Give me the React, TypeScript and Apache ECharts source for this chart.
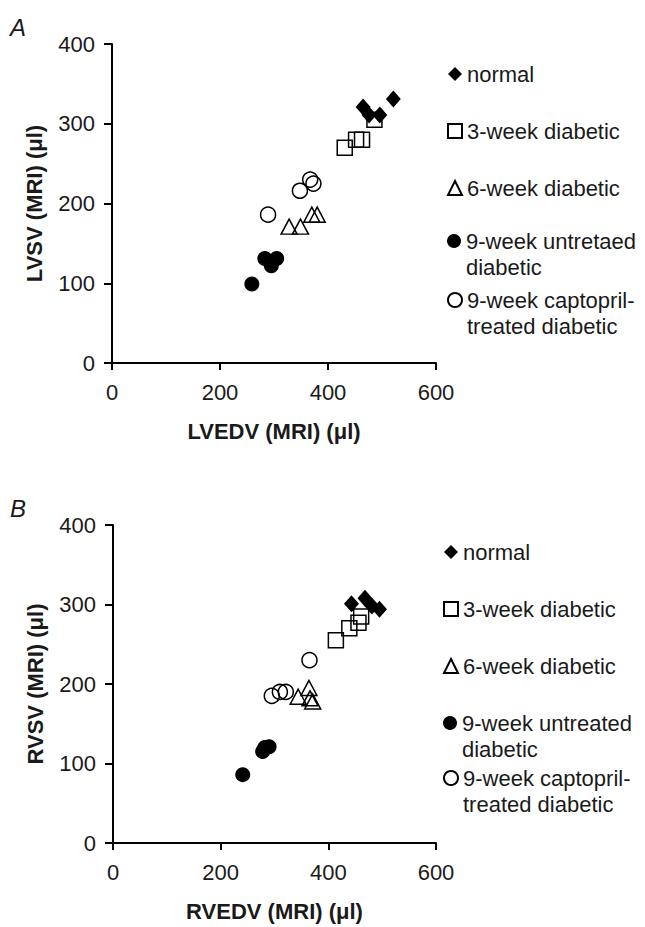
import React, { useEffect, useRef } from "react";
import * as echarts from "echarts";

// ---- Data (x = EDV, y = SV, both in µl) ----
const NAMES_A = [
  "normal",
  "3-week diabetic",
  "6-week diabetic",
  "9-week untretaed\ndiabetic",
  "9-week captopril-\ntreated diabetic",
];
const NAMES_B = [
  "normal",
  "3-week diabetic",
  "6-week diabetic",
  "9-week untreated\ndiabetic",
  "9-week captopril-\ntreated diabetic",
];

const A_NORMAL = [[465, 321], [476, 311], [496, 311], [521, 331]];
const A_WEEK3 = [[431, 270], [452, 280], [463, 280], [486, 305]];
const A_WEEK6 = [[328, 171], [349, 171], [370, 186], [380, 186]];
const A_UNTREATED = [[259, 99], [283, 131], [295, 122], [305, 131]];
const A_CAPTOPRIL = [[289, 186], [348, 216], [367, 230], [373, 225]];

const B_NORMAL = [[443, 301], [468, 308], [481, 298], [495, 294]];
const B_WEEK3 = [[414, 255], [439, 270], [456, 277], [461, 285]];
const B_WEEK6 = [[344, 184], [364, 195], [366, 182], [371, 178]];
const B_UNTREATED = [[241, 86], [278, 115], [282, 120], [290, 121]];
const B_CAPTOPRIL = [[295, 185], [310, 190], [321, 190], [365, 230]];

const X_TITLES = ["LVEDV (MRI) (\u03bcl)", "RVEDV (MRI) (\u03bcl)"];
const Y_TITLES = ["LVSV (MRI) (\u03bcl)", "RVSV (MRI) (\u03bcl)"];
const PANEL_LABELS = ["A", "B"];

const FONT = "'Liberation Sans', Arial, Helvetica, sans-serif";
const INK = "#1a1a1a";
const OPEN = "rgba(255,255,255,0)";

type Style = { symbol: string; size: number | number[]; filled: boolean };
const STYLES: Style[] = [
  { symbol: "diamond", size: [15, 17], filled: true },
  { symbol: "rect", size: 15, filled: false },
  { symbol: "triangle", size: [16, 15], filled: false },
  { symbol: "circle", size: 15, filled: true },
  { symbol: "circle", size: 15, filled: false },
];

function makeSeries(name: string, data: number[][], idx: number, st: Style, z: number) {
  return {
    type: "scatter",
    name,
    data,
    xAxisIndex: idx,
    yAxisIndex: idx,
    symbol: st.symbol,
    symbolSize: st.size,
    z,
    itemStyle: st.filled
      ? { color: "#000", borderColor: "#000", borderWidth: 0, opacity: 1 }
      : { color: OPEN, borderColor: "#000", borderWidth: 1.5, opacity: 1 },
    emphasis: { disabled: true },
  };
}

function makeAxes(idx: number) {
  const base = {
    type: "value",
    gridIndex: idx,
    splitLine: { show: false },
    axisLine: { show: true, onZero: false, lineStyle: { color: "#000", width: 2 } },
    axisTick: { show: true, inside: false, lineStyle: { color: "#000", width: 2 } },
    nameLocation: "middle",
    nameTextStyle: { color: INK, fontFamily: FONT, fontWeight: "bold", fontSize: 22 },
  };
  const x = {
    ...base,
    min: 0,
    max: 600,
    interval: 200,
    axisTick: { ...base.axisTick, length: 7 },
    axisLabel: { color: INK, fontFamily: FONT, fontSize: 22, margin: 18 },
    name: X_TITLES[idx],
    nameGap: 57,
  };
  const y = {
    ...base,
    min: 0,
    max: 400,
    interval: 100,
    axisTick: { ...base.axisTick, length: 8 },
    axisLabel: { color: INK, fontFamily: FONT, fontSize: 22, margin: 17 },
    name: Y_TITLES[idx],
    nameGap: 67,
  };
  return { x, y };
}

function makeLegends(names: string[], left: number, topSingle: number, topTwo: number[]) {
  const common = {
    orient: "vertical",
    left,
    padding: 0,
    itemWidth: 14,
    itemHeight: 14,
    selectedMode: false,
    inactiveColor: INK,
  };
  const ts = { color: INK, fontFamily: FONT, fontSize: 22, lineHeight: 26 };
  return [
    { ...common, top: topSingle, itemGap: 31, data: names.slice(0, 3), textStyle: ts },
    // two-line entries: an empty first line keeps the marker level with the first line of text
    { ...common, top: topTwo[0], data: [names[3]], textStyle: ts, formatter: (n: string) => "\n" + n },
    { ...common, top: topTwo[1], data: [names[4]], textStyle: ts, formatter: (n: string) => "\n" + n },
  ];
}

export default function App() {
  const ref = useRef<HTMLDivElement>(null);

  useEffect(() => {
    if (!ref.current) return;
    const chart = echarts.init(ref.current, undefined, { renderer: "svg" });
    const axA = makeAxes(0);
    const axB = makeAxes(1);
    const dataA = [A_NORMAL, A_WEEK3, A_WEEK6, A_UNTREATED, A_CAPTOPRIL];
    const dataB = [B_NORMAL, B_WEEK3, B_WEEK6, B_UNTREATED, B_CAPTOPRIL];
    const zOrder = [6, 3, 3, 4, 2];
    const series: any[] = [];
    NAMES_A.forEach((n, i) => series.push(makeSeries(n, dataA[i], 0, STYLES[i], zOrder[i])));
    NAMES_B.forEach((n, i) => series.push(makeSeries(n, dataB[i], 1, STYLES[i], zOrder[i])));

    chart.setOption({
      animation: false,
      backgroundColor: "#fff",
      textStyle: { fontFamily: FONT },
      grid: [
        { left: 112, top: 44, width: 324, height: 319 },
        { left: 113, top: 525, width: 323, height: 318 },
      ],
      xAxis: [axA.x, axB.x],
      yAxis: [axA.y, axB.y],
      legend: [
        ...makeLegends(NAMES_A, 447, 61, [202, 261]),
        ...makeLegends(NAMES_B, 443, 539, [684, 739]),
      ],
      graphic: [
        {
          type: "text",
          left: 10,
          top: 15,
          style: { text: PANEL_LABELS[0], fill: INK, font: `italic 24px ${FONT}` },
        },
        {
          type: "text",
          left: 10,
          top: 496,
          style: { text: PANEL_LABELS[1], fill: INK, font: `italic 24px ${FONT}` },
        },
      ],
      series,
    });
    return () => chart.dispose();
  }, []);

  return (
    <div
      ref={ref}
      style={{ position: "absolute", left: 0, top: 0, width: 645, height: 927, background: "#fff" }}
    />
  );
}
